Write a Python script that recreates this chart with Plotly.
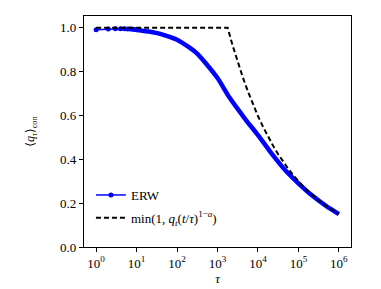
import plotly.graph_objects as go

# ERW data
tau_erw = [1, 2, 3, 4, 5, 6, 7, 8, 9, 10, 15, 20, 30, 50, 100, 200, 300, 500,
           1000, 2000, 5000, 1e4, 2e4, 5e4, 1e5, 2e5, 5e5, 1e6]
q_erw = [0.990, 0.994, 0.995, 0.995, 0.995, 0.994, 0.994, 0.993, 0.992, 0.990,
         0.985, 0.982, 0.976, 0.965, 0.945, 0.910, 0.885, 0.840,
         0.770, 0.680, 0.580, 0.510, 0.435, 0.345, 0.290, 0.240, 0.185, 0.150]

# min(1, q_t (t/tau)^(1-a)) curve
tau_min = [1, 1780, 2371, 3162, 4217, 5623, 7499, 1e4, 13335, 17783, 23714, 31623,
           42170, 56234, 74989, 1e5, 133352, 177828, 237137, 316228, 421697, 562341,
           749894, 1e6]
q_min = [1.0, 1.0, 0.918, 0.843, 0.774, 0.710, 0.651, 0.597, 0.548, 0.502, 0.461,
         0.423, 0.388, 0.356, 0.327, 0.299, 0.275, 0.252, 0.231, 0.212, 0.195,
         0.178, 0.164, 0.150]

x_tickvals = [1, 10, 100, 1000, 1e4, 1e5, 1e6]
x_ticktext = ["10<sup>0</sup>", "10<sup>1</sup>", "10<sup>2</sup>", "10<sup>3</sup>",
              "10<sup>4</sup>", "10<sup>5</sup>", "10<sup>6</sup>"]
y_tickvals = [0.0, 0.2, 0.4, 0.6, 0.8, 1.0]

n_dots = 9
FONT = "Liberation Serif, DejaVu Serif, Times New Roman, serif"
BLUE = "#0000ff"

fig = go.Figure()
# thick dense part of ERW (no legend)
fig.add_trace(go.Scatter(
    x=tau_erw[n_dots - 1:], y=q_erw[n_dots - 1:], mode="lines",
    line=dict(color=BLUE, width=4.5, shape="spline", smoothing=0.6),
    showlegend=False, hoverinfo="skip"))
# sparse dotted part of ERW (legend entry)
fig.add_trace(go.Scatter(
    x=tau_erw[:n_dots + 1], y=q_erw[:n_dots + 1], mode="lines+markers",
    line=dict(color=BLUE, width=1.5), marker=dict(color=BLUE, size=5),
    name="ERW", legendgroup="a"))
fig.add_trace(go.Scatter(
    x=tau_min, y=q_min, mode="lines",
    line=dict(color="black", width=2, dash="5px,3px"),
    name="min(1, <i>q<sub>t</sub></i>(<i>t</i>/<i>τ</i>)<sup>1−<i>a</i></sup>)",
    legendgroup="b"))

fig.update_layout(
    width=381, height=289,
    margin=dict(l=76, r=38, t=8, b=50),
    paper_bgcolor="white", plot_bgcolor="white",
    font=dict(family=FONT, size=13, color="black"),
    showlegend=True,
    legend=dict(x=0.026, y=0.29, xanchor="left", yanchor="top",
                bgcolor="rgba(0,0,0,0)", borderwidth=0,
                font=dict(family=FONT, size=13), tracegroupgap=3,
                itemwidth=30),
    xaxis=dict(type="log", range=[-0.3, 6.3],
               tickvals=x_tickvals, ticktext=x_ticktext,
               showgrid=False, zeroline=False,
               showline=True, linecolor="black", linewidth=1.2, mirror=True,
               ticks="outside", ticklen=4, tickwidth=1, tickcolor="black",
               tickfont=dict(family=FONT, size=13),
               title=dict(text="<i>τ</i>", font=dict(family=FONT, size=13), standoff=4)),
    yaxis=dict(range=[0, 1.053], tickvals=y_tickvals, tickformat=".1f",
               showgrid=False, zeroline=False,
               showline=True, linecolor="black", linewidth=1.2, mirror=True,
               ticks="outside", ticklen=4, tickwidth=1, tickcolor="black",
               tickfont=dict(family=FONT, size=13),
               title=dict(text="⟨<i>q<sub>τ</sub></i>⟩<sub>con</sub>",
                          font=dict(family=FONT, size=12), standoff=22)),
)

fig.write_html("out.html")
